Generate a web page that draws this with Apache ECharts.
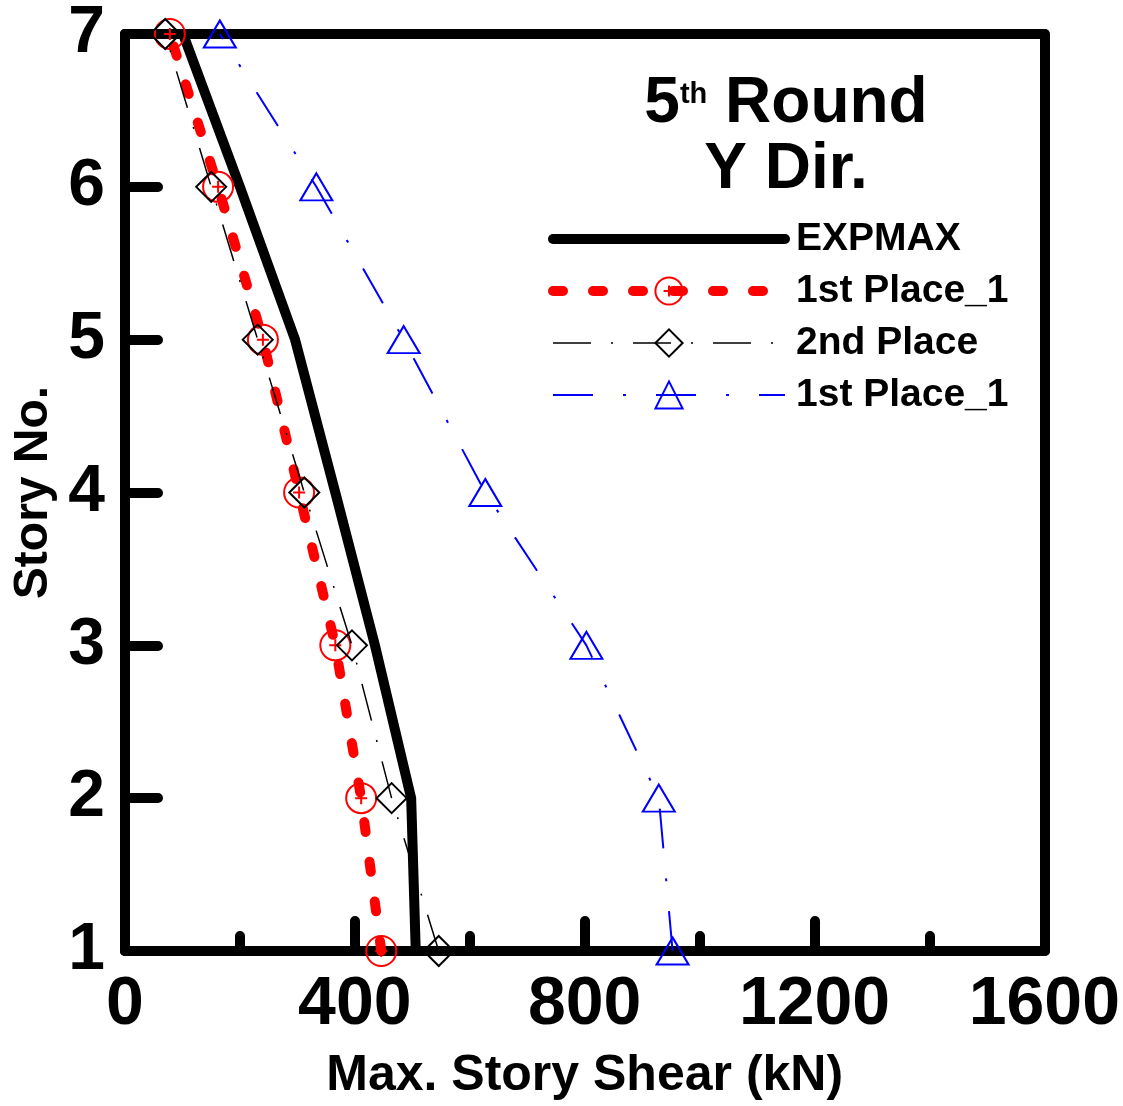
<!DOCTYPE html>
<html>
<head>
<meta charset="utf-8">
<script src="https://cdn.jsdelivr.net/npm/echarts@6/dist/echarts.min.js"></script>
<style>
html,body{margin:0;padding:0;background:#fff;}
#chart{width:1123px;height:1106px;}
</style>
</head>
<body>
<div id="chart"></div>
<script>
// ---- data (story 1 .. 7) ----
const stories = [1, 2, 3, 4, 5, 6, 7];
const expmax = [506, 498, 435, 366, 296, 200, 101];
const firstPlaceA = [446, 411, 366, 303, 240, 162, 78];
const secondPlace = [546, 464, 395, 312, 231, 150, 70];
const firstPlaceB = [953, 929, 803, 627, 485, 333, 165];
const seriesNames = ['EXPMAX', '1st Place_1', '2nd Place', '1st Place_1 '];
const xTickValues = [0, 400, 800, 1200, 1600];
const yTickValues = [1, 2, 3, 4, 5, 6, 7];

const FONT = '"Liberation Sans", Arial, sans-serif';
const pairs = arr => arr.map((v, i) => [v, stories[i]]);

const chart = echarts.init(document.getElementById('chart'), null, {renderer: 'canvas'});

const circlePlus = 'path://M15,0 A15,15 0 1,1 14.999,0 Z M9,15 L21,15 M15,9 L15,21';

const option = {
  backgroundColor: '#fff',
  animation: false,
  title: {
    text: '{n|5}{s|th}{n| Round}\n{n|Y Dir.}',
    left: 781,
    top: 66,
    textAlign: 'center',
    textStyle: {
      rich: {
        n: {fontSize: 64, fontWeight: 'bold', fontFamily: FONT, color: '#000', lineHeight: 66},
        s: {fontSize: 29, fontWeight: 'bold', fontFamily: FONT, color: '#000', lineHeight: 30, verticalAlign: 'top', padding: [9, 0, 0, 0]}
      }
    }
  },
  legend: {
    orient: 'vertical',
    left: 543,
    top: 214,
    itemWidth: 232,
    itemHeight: 34,
    itemGap: 12,
    data: [
      {name: seriesNames[0], lineStyle: {width: 10, cap: 'round'}, itemStyle: {opacity: 0}},
      {name: seriesNames[1], lineStyle: {width: 10, cap: 'round'}},
      {name: seriesNames[2], lineStyle: {width: 1.5}},
      {name: seriesNames[3], lineStyle: {width: 2}}
    ],
    formatter: n => n.trim(),
    textStyle: {fontSize: 39, fontWeight: 'bold', fontFamily: FONT, color: '#000', lineHeight: 40, padding: [0, 0, 0, 6]}
  },
  grid: {left: 125, right: 76, top: 34, bottom: 152, containLabel: false},
  xAxis: [{
    type: 'value', position: 'bottom', min: 0, max: 1600, interval: 400,
    axisLine: {show: true, onZero: false, lineStyle: {color: '#000', width: 10, cap: 'round'}},
    axisTick: {show: true, inside: true, length: 30, lineStyle: {color: '#000', width: 10, cap: 'round'}},
    minorTick: {show: true, splitNumber: 2, length: 15, lineStyle: {color: '#000', width: 10, cap: 'round'}},
    splitLine: {show: false},
    axisLabel: {
      margin: 20, fontSize: 68, fontWeight: 'bold', fontFamily: FONT, color: '#000',
      formatter: v => xTickValues.indexOf(v) >= 0 ? String(v) : ''
    },
    name: 'Max. Story Shear (kN)', nameLocation: 'middle', nameGap: 100,
    nameTextStyle: {fontSize: 50, fontWeight: 'bold', fontFamily: FONT, color: '#000'}
  }, {
    type: 'value', position: 'top', min: 0, max: 1600,
    axisLine: {show: true, onZero: false, lineStyle: {color: '#000', width: 10, cap: 'round'}},
    axisTick: {show: false}, axisLabel: {show: false}, splitLine: {show: false}
  }],
  yAxis: [{
    type: 'value', position: 'left', min: 1, max: 7, interval: 1,
    axisLine: {show: true, onZero: false, lineStyle: {color: '#000', width: 10, cap: 'round'}},
    axisTick: {show: true, inside: true, length: 33, lineStyle: {color: '#000', width: 10, cap: 'round'}},
    splitLine: {show: false},
    axisLabel: {
      margin: 20, fontSize: 66, fontWeight: 'bold', fontFamily: FONT, color: '#000',
      formatter: v => yTickValues.indexOf(v) >= 0 ? String(v) : ''
    },
    name: 'Story No.', nameLocation: 'middle', nameGap: 62,
    nameTextStyle: {fontSize: 48, fontWeight: 'bold', fontFamily: FONT, color: '#000'}
  }, {
    type: 'value', position: 'right', min: 1, max: 7,
    axisLine: {show: true, onZero: false, lineStyle: {color: '#000', width: 10, cap: 'round'}},
    axisTick: {show: false}, axisLabel: {show: false}, splitLine: {show: false}
  }],
  series: [
    {
      name: seriesNames[0], type: 'line', xAxisIndex: 0, yAxisIndex: 0,
      data: pairs(expmax), showSymbol: false, symbol: 'none',
      lineStyle: {color: '#000', width: 10, cap: 'round', join: 'round'},
      itemStyle: {color: '#000'}, z: 2
    },
    {
      name: seriesNames[1], type: 'line', xAxisIndex: 0, yAxisIndex: 0,
      data: pairs(firstPlaceA), symbol: circlePlus, symbolSize: 30,
      lineStyle: {color: '#ff0000', width: 10, type: [10, 30], cap: 'round'},
      itemStyle: {color: 'rgba(0,0,0,0)', borderColor: '#ff0000', borderWidth: 2}, z: 3
    },
    {
      name: seriesNames[2], type: 'line', xAxisIndex: 0, yAxisIndex: 0,
      data: pairs(secondPlace), symbol: 'diamond', symbolSize: 30,
      lineStyle: {color: '#000', width: 1.5, type: [38, 20, 2, 20]},
      itemStyle: {color: 'rgba(0,0,0,0)', borderColor: '#000', borderWidth: 2}, z: 4
    },
    {
      name: seriesNames[3], type: 'line', xAxisIndex: 0, yAxisIndex: 0,
      data: pairs(firstPlaceB), symbol: 'triangle', symbolSize: [32, 27],
      lineStyle: {color: '#0000ff', width: 2, type: [40, 30, 3, 30]},
      itemStyle: {color: 'rgba(0,0,0,0)', borderColor: '#0000ff', borderWidth: 2}, z: 5
    }
  ]
};
chart.setOption(option);
</script>
</body>
</html>
